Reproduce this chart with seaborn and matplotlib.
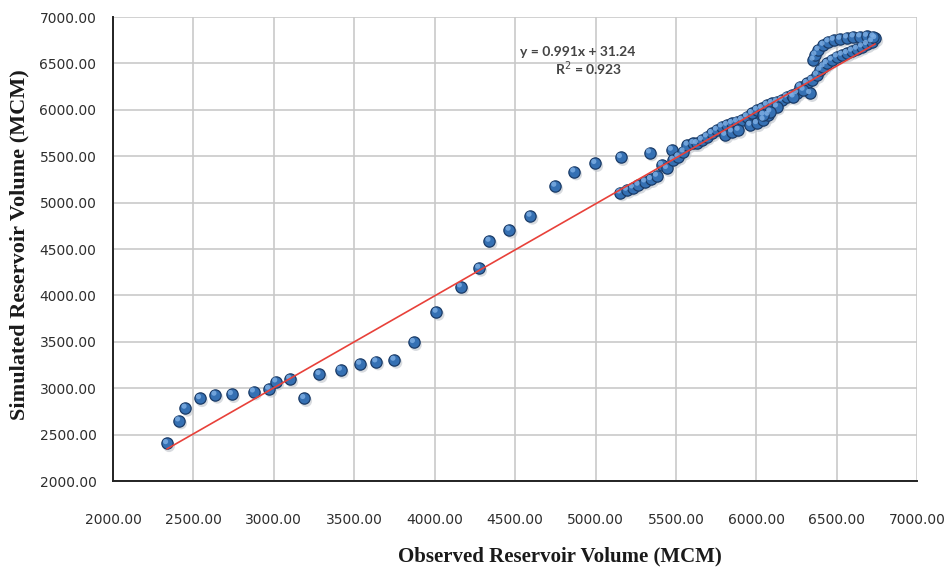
import numpy as np
import pandas as pd
import matplotlib
matplotlib.use("Agg")
import matplotlib.pyplot as plt
import matplotlib.transforms as mtransforms
import seaborn as sns

# Observed vs simulated reservoir volume (MCM)
observed = [
    2335, 2410, 2450, 2540, 2636, 2738, 2875, 2970, 3014, 3101, 3188, 3283,
    3416, 3536, 3636, 3749, 3870, 4011, 4162, 4276, 4340, 4465, 4595, 4749,
    4867, 4998, 5157, 5338, 5474,
    5153, 5195, 5232, 5267, 5308, 5344, 5381, 5412, 5443, 5484, 5516, 5547,
    5572, 5609,
    5630, 5661, 5692, 5723, 5754, 5785, 5817, 5848, 5879, 5910, 5941, 5972,
    6003, 6034, 6065, 6096, 6127, 6158, 6189, 6221, 6252,
    5806, 5848, 5889, 5962, 6003, 6044, 6075, 6127,
    6272, 6314, 6344, 6376, 6397, 6417, 6438, 6469, 6500, 6531, 6563, 6594,
    6625, 6656, 6687, 6718, 6739,
    6355, 6366, 6386, 6417, 6448, 6480, 6521, 6563, 6604, 6645, 6687, 6728,
    6334, 6293, 6231, 6086, 6044,
]
simulated = [
    2405, 2650, 2787, 2890, 2927, 2934, 2962, 2991, 3070, 3099, 2891, 3150,
    3196, 3261, 3286, 3304, 3495, 3821, 4094, 4295, 4586, 4705, 4856, 5179,
    5333, 5424, 5488, 5538, 5567,
    5107, 5136, 5161, 5190, 5225, 5251, 5287, 5405, 5370, 5459, 5495, 5549,
    5621, 5639,
    5639, 5675, 5710, 5747, 5782, 5818, 5836, 5855, 5872, 5890, 5926, 5962,
    5998, 6016, 6052, 6070, 6087, 6105, 6141, 6159, 6178,
    5728, 5764, 5782, 5836, 5854, 5890, 5944, 6033,
    6249, 6286, 6321, 6375, 6429, 6465, 6501, 6537, 6572, 6591, 6609, 6634,
    6655, 6680, 6706, 6734, 6770,
    6537, 6591, 6645, 6698, 6734, 6752, 6763, 6777, 6788, 6788, 6795, 6788,
    6178, 6213, 6141, 5980, 5944,
]

# Linear trend fitted to the series
slope = 0.991
intercept = 31.24
r_squared = 0.923

ticks = [2000, 2500, 3000, 3500, 4000, 4500, 5000, 5500, 6000, 6500, 7000]

df = pd.DataFrame({"Observed": observed, "Simulated": simulated})

sns.set_theme(style="white")
fig = plt.figure(figsize=(9.46, 5.71), dpi=100)
ax = fig.add_axes([0.1195, 0.1576, 0.850, 0.8126])

# soft drop shadow under each marker
shadow = ax.transData + mtransforms.ScaledTranslation(1.5 / 72, -2.0 / 72, fig.dpi_scale_trans)
sns.scatterplot(data=df, x="Observed", y="Simulated", ax=ax, s=72, color="#b9bec6",
                edgecolor="none", alpha=0.55, transform=shadow, legend=False, zorder=2)
# trend line
xs = np.array([min(observed), max(observed)])
sns.lineplot(x=xs, y=slope * xs + intercept, ax=ax, color="#e8413a", linewidth=1.2, zorder=4)
# markers
sns.scatterplot(data=df, x="Observed", y="Simulated", ax=ax, s=66, color="#3570b3",
                edgecolor="#1b3c68", linewidth=0.9, legend=False, zorder=3)
# glossy highlight
hl = ax.transData + mtransforms.ScaledTranslation(-1.0 / 72, 1.3 / 72, fig.dpi_scale_trans)
sns.scatterplot(data=df, x="Observed", y="Simulated", ax=ax, s=14, color="#7fb0e6",
                edgecolor="none", alpha=0.8, transform=hl, legend=False, zorder=3.5)

ax.set_xlim(2000, 7000)
ax.set_ylim(2000, 7000)
ax.set_xticks(ticks)
ax.set_yticks(ticks)
ax.set_xticklabels([f"{t:.2f}" for t in ticks])
ax.set_yticklabels([f"{t:.2f}" for t in ticks])
ax.grid(True, color="#c9c9c9", linewidth=1.2)
ax.set_axisbelow(True)

for side in ("top", "right"):
    ax.spines[side].set_visible(False)
for side in ("left", "bottom"):
    ax.spines[side].set_color("#222222")
    ax.spines[side].set_linewidth(1.4)

ax.tick_params(axis="both", direction="inout", length=8, width=1.2, color="#222222",
               labelsize=10, labelcolor="#2e2e2e")
ax.tick_params(axis="x", pad=19)
ax.tick_params(axis="y", pad=8)

label_font = dict(family="Liberation Serif", weight="bold", color="#1a1a1a")
ax.set_xlabel("Observed Reservoir Volume (MCM)", fontsize=15, **label_font)
ax.set_ylabel("Simulated Reservoir Volume (MCM)", fontsize=16, **label_font)
ax.xaxis.set_label_coords(0.556, -0.142)
ax.yaxis.set_label_coords(-0.104, 0.509)

eq_font = dict(family="Lato", weight="bold", color="#444444", fontsize=10, ha="center")
ax.text(0.578, 0.915, f"y = {slope:.3f}x + {intercept:.2f}", transform=ax.transAxes, **eq_font)
ax.text(0.591, 0.874, f"R$^2$ = {r_squared:.3f}", transform=ax.transAxes, **eq_font)

fig.savefig("out.png", dpi=100, facecolor="white")
